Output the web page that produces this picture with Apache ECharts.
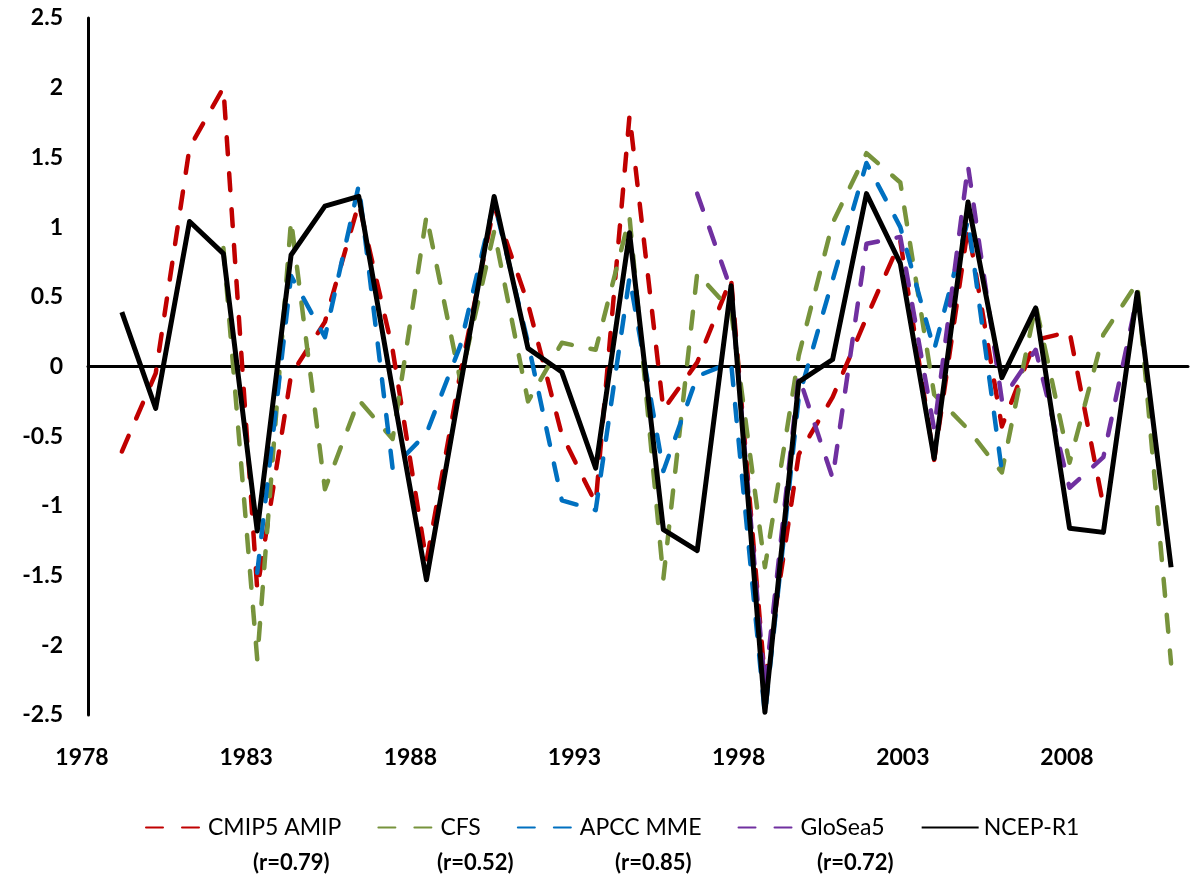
<!DOCTYPE html>
<html>
<head>
<meta charset="utf-8">
<script src="https://cdn.jsdelivr.net/npm/echarts@6/dist/echarts.min.js"></script>
<style>
html,body{margin:0;padding:0;background:#fff;}
#chart{width:1190px;height:880px;}
</style>
</head>
<body>
<div id="chart"></div>
<script>
const years = [1979,1980,1981,1982,1983,1984,1985,1986,1987,1988,1989,1990,1991,1992,1993,1994,1995,1996,1997,1998,1999,2000,2001,2002,2003,2004,2005,2006,2007,2008,2009,2010];
const cmip5 = [-0.61,-0.05,1.57,2.0,-1.6,-0.06,0.32,1.17,0.12,-1.4,-0.05,1.15,0.45,-0.49,-0.98,1.8,-0.31,0.03,0.63,-2.25,-0.63,-0.22,0.35,0.9,-0.67,1.0,-0.43,0.19,0.25,-1.0,null,null];
const cfs = [null,null,null,0.85,-2.1,1.05,-0.88,-0.24,-0.52,1.08,-0.1,0.97,-0.25,0.17,0.12,1.07,-1.52,0.67,0.4,-1.44,0.08,1.03,1.53,1.32,-0.2,-0.45,-0.76,0.44,-0.69,0.23,0.6,-2.13];
const apcc = [null,null,null,null,-1.48,0.65,0.21,1.3,-0.73,-0.48,0.15,1.18,0.17,-0.96,-1.03,0.64,-0.75,-0.07,0.03,-2.5,-0.22,0.62,1.46,1.0,0.12,1.05,-0.75,null,null,null,null,null];
const glosea5 = [null,null,null,null,null,null,null,null,null,null,null,null,null,null,null,null,null,1.24,0.55,-2.3,-0.07,-0.8,0.88,0.93,-0.45,1.44,-0.24,0.12,-0.87,-0.65,0.5,null];
const ncep = [0.39,-0.3,1.04,0.81,-1.18,0.8,1.15,1.22,-0.17,-1.53,-0.14,1.22,0.13,-0.04,-0.73,0.96,-1.17,-1.32,0.58,-2.48,-0.11,0.05,1.24,0.74,-0.66,1.18,-0.08,0.42,-1.16,-1.19,0.53,-1.44];
const seriesNames = ['CMIP5 AMIP','CFS','APCC MME','GloSea5','NCEP-R1'];
const corrLabels = ['(r=0.79)','(r=0.52)','(r=0.85)','(r=0.72)'];

const FONT = 'Lato, "Open Sans", sans-serif';
const pair = arr => years.map((y,i)=>[y, arr[i]]);
const dash = [17, 19];

function dashed(name, data, color) {
  return {
    name, type:'line', data: pair(data), xAxisIndex:0, yAxisIndex:0,
    symbol:'none', connectNulls:false, animation:false,
    lineStyle:{color, width:4.5, type:dash, cap:'round', join:'round'},
    itemStyle:{color}
  };
}

const chart = echarts.init(document.getElementById('chart'), null, {renderer:'canvas'});
chart.setOption({
  animation:false,
  backgroundColor:'#fff',
  grid:[
    {left:88, right:2, top:18, bottom:165, containLabel:false},
    {left:82, right:24.5, top:18, bottom:165, containLabel:false}
  ],
  xAxis:[
    {type:'value', gridIndex:0, min:1978, max:2010.5, interval:5,
     axisLine:{show:true, onZero:true, lineStyle:{color:'#000', width:3}},
     axisTick:{show:false}, axisLabel:{show:false}, splitLine:{show:false}},
    {type:'value', gridIndex:1, min:1978, max:2011, interval:5, position:'bottom',
     axisLine:{show:false}, axisTick:{show:false}, splitLine:{show:false},
     axisLabel:{show:true, showMaxLabel:false, margin:31, color:'#000', fontSize:23, fontWeight:'bold', fontFamily:FONT,
       formatter: v => ((v - 1978) % 5 === 0 ? String(v) : '')}}
  ],
  yAxis:[
    {type:'value', gridIndex:0, min:-2.5, max:2.5, interval:0.5,
    axisLine:{show:true, onZero:false, lineStyle:{color:'#000', width:3}},
    axisTick:{show:false}, splitLine:{show:false},
    axisLabel:{margin:25, color:'#000', fontSize:23, fontWeight:'bold', fontFamily:FONT,
      formatter: v => String(v)}},
    {type:'value', gridIndex:1, min:-2.5, max:2.5, show:false}
  ],
  legend:{
    data: seriesNames, left:140, top:811, itemGap:36, itemWidth:57, itemHeight:14,
    itemStyle:{opacity:0, color:'rgba(0,0,0,0)', borderWidth:0},
    textStyle:{color:'#000', fontSize:23, fontFamily:FONT}
  },
  graphic: corrLabels.map((t,i)=>({
    type:'text', left:[253,437,615,817][i], top:852,
    style:{text:t, font:'bold 22px '+FONT, fill:'#000'}
  })),
  series:[
    dashed(seriesNames[0], cmip5, '#C00000'),
    dashed(seriesNames[1], cfs, '#77933C'),
    dashed(seriesNames[2], apcc, '#0070C0'),
    dashed(seriesNames[3], glosea5, '#7030A0'),
    {name:seriesNames[4], type:'line', data:pair(ncep), symbol:'none', animation:false,
     lineStyle:{color:'#000', width:5, type:'solid', join:'round'}, itemStyle:{color:'#000'}}
  ]
});
</script>
</body>
</html>
